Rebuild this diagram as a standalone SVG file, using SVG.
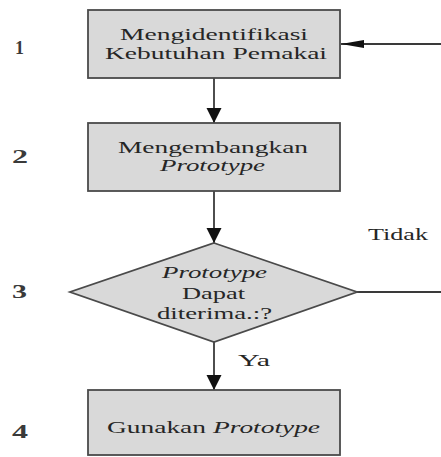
<svg xmlns="http://www.w3.org/2000/svg" width="441" height="457" viewBox="0 0 441 457">
<defs>
<style>
.box{fill:#d9d9d9;stroke:#4a4a4a;stroke-width:1.8}
.ln{fill:none;stroke:#3a3a3a;stroke-width:1.8}
.t{font-family:"Liberation Serif","Times New Roman",serif;font-size:16px;fill:#262626}
.i{font-style:italic}
.n{font-family:"Liberation Serif","Times New Roman",serif;font-size:18px;font-weight:bold;fill:#3a3a3a}
</style>
<marker id="av" markerUnits="userSpaceOnUse" markerWidth="16" markerHeight="16" refX="15" refY="8" orient="auto" viewBox="0 0 16 16">
<polygon points="0,0.5 15,8 0,15.5" fill="#111"/>
</marker>
<marker id="ah" markerUnits="userSpaceOnUse" markerWidth="24" markerHeight="10" refX="23" refY="5" orient="auto" viewBox="0 0 24 10">
<polygon points="0,1 23,5 0,9" fill="#111"/>
</marker>
</defs>
<rect width="441" height="457" fill="#ffffff"/>
<g id="connectors">
<line class="ln" x1="214" y1="78" x2="214" y2="123" marker-end="url(#av)"/>
<line class="ln" x1="214" y1="191" x2="214" y2="243" marker-end="url(#av)"/>
<line class="ln" x1="214" y1="342" x2="214" y2="390" marker-end="url(#av)"/>
<line class="ln" x1="357" y1="292" x2="441" y2="292"/>
<line class="ln" x1="441" y1="44" x2="341" y2="44" marker-end="url(#ah)"/>
<text class="t" x="368" y="240" textLength="60" lengthAdjust="spacingAndGlyphs">Tidak</text>
<text class="t" x="238" y="366" textLength="32" lengthAdjust="spacingAndGlyphs">Ya</text>
</g>
<g id="node1">
<rect class="box" x="88" y="10" width="252" height="68"/>
<text class="t" x="120" y="40" textLength="188" lengthAdjust="spacingAndGlyphs">Mengidentifikasi</text>
<text class="t" x="105" y="59" textLength="222" lengthAdjust="spacingAndGlyphs">Kebutuhan Pemakai</text>
</g>
<g id="node2">
<rect class="box" x="88" y="123" width="252" height="68"/>
<text class="t" x="118" y="153" textLength="190" lengthAdjust="spacingAndGlyphs">Mengembangkan</text>
<text class="t i" x="160" y="171" textLength="105" lengthAdjust="spacingAndGlyphs">Prototype</text>
</g>
<g id="node3">
<polygon class="box" points="214,243 357,292 214,342 70,292"/>
<text class="t i" x="162" y="278" textLength="105" lengthAdjust="spacingAndGlyphs">Prototype</text>
<text class="t" x="182" y="299" textLength="63" lengthAdjust="spacingAndGlyphs">Dapat</text>
<text class="t" x="157" y="319" textLength="115" lengthAdjust="spacingAndGlyphs">diterima.:?</text>
</g>
<g id="node4">
<rect class="box" x="88" y="390" width="252" height="65"/>
<text class="t" x="107" y="433" textLength="99" lengthAdjust="spacingAndGlyphs">Gunakan</text>
<text class="t i" x="213" y="433" textLength="107" lengthAdjust="spacingAndGlyphs">Prototype</text>
</g>
<g id="labels">
<text class="n" x="15" y="54" textLength="9" lengthAdjust="spacingAndGlyphs">1</text>
<text class="n" x="12" y="163" textLength="16" lengthAdjust="spacingAndGlyphs">2</text>
<text class="n" x="12" y="298" textLength="15" lengthAdjust="spacingAndGlyphs">3</text>
<text class="n" x="12" y="438" textLength="16" lengthAdjust="spacingAndGlyphs">4</text>
</g>
</svg>
